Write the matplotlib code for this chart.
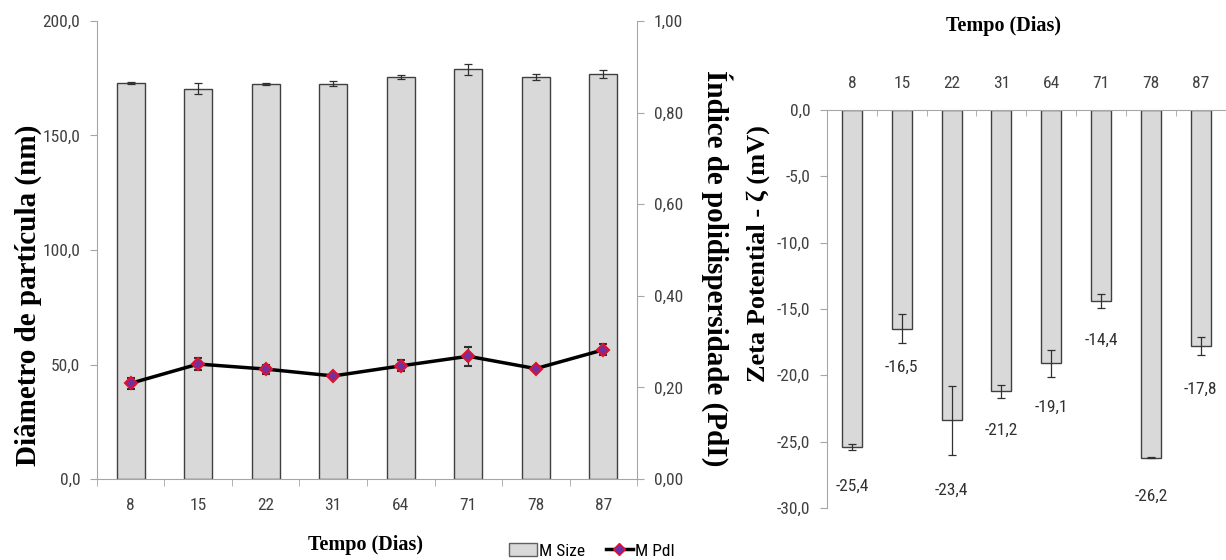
import numpy as np
import matplotlib
matplotlib.use("Agg")
import matplotlib.pyplot as plt
from matplotlib import font_manager
from matplotlib.lines import Line2D
from matplotlib.patches import Patch

days = ["8", "15", "22", "31", "64", "71", "78", "87"]

# particle size (nm) and its error
size_mean = [172.9, 170.5, 172.5, 172.6, 175.6, 179.0, 175.5, 176.9]
size_err = [0.6, 2.5, 0.3, 1.2, 1.0, 2.4, 1.4, 1.6]

# polydispersity index
pdi_mean = [0.209, 0.251, 0.240, 0.225, 0.247, 0.268, 0.241, 0.282]
pdi_err = [0.012, 0.013, 0.010, 0.005, 0.012, 0.021, 0.005, 0.012]

# zeta potential (mV)
zeta_mean = [-25.4, -16.5, -23.4, -21.2, -19.1, -14.4, -26.2, -17.8]
zeta_err = [0.2, 1.1, 2.6, 0.5, 1.0, 0.55, 0.05, 0.7]

# pick a narrow sans if one is there, the original uses Calibri
installed = {f.name for f in font_manager.fontManager.ttflist}
narrow = [n for n in ["Liberation Sans Narrow", "Roboto Condensed", "Open Sans Condensed",
                      "DejaVu Sans Condensed"] if n in installed]
tick_font = narrow[:1] + ["DejaVu Sans"]
tick_size = 12.5 if narrow else 10.5
label_font = ["Liberation Serif", "DejaVu Serif"]
grey = "#a6a6a6"
bar_face = "#d9d9d9"
bar_edge = "#404040"

W, H = 1226.0, 560.0
# how far (points) each zeta value label sits below its bar end
zeta_label_drop = [28, 28, 50, 28, 32, 28, 28, 31]


def comma(fmt):
    return lambda v, p: (fmt % v).replace(".", ",")


def style_ticks(labels):
    for t in labels:
        t.set_family(tick_font)
        t.set_fontsize(tick_size)
        t.set_color("#404040")
        if not narrow:
            t.set_fontstretch("condensed")


def label(px, py, s, size, rot=0):
    # axis titles placed in figure pixels (from top-left), like the original layout
    fig.text(px / W, 1 - py / H, s, family=label_font, fontweight="bold", fontsize=size,
             rotation=rot, ha="center", va="center", rotation_mode="anchor")


fig = plt.figure(figsize=(12.26, 5.6), dpi=100)
x = np.arange(len(days))

# ---- left panel: size bars + PdI line
ax = fig.add_axes([0.0791, 0.1446, 0.4405, 0.818])
ax.bar(x, size_mean, width=0.41, color=bar_face, edgecolor=bar_edge, linewidth=1.0, zorder=2)
ax.errorbar(x, size_mean, yerr=size_err, fmt="none", ecolor="#303030", elinewidth=0.9,
            capsize=3, capthick=0.9, zorder=3)
ax.set_xlim(-0.5, 7.5)
ax.set_ylim(0, 200)
ax.set_yticks([0, 50, 100, 150, 200])
ax.yaxis.set_major_formatter(plt.FuncFormatter(comma("%.1f")))
ax.set_xticks(x)
ax.set_xticklabels(days)
ax.set_xticks(np.arange(-0.5, 8.0, 1.0), minor=True)
ax.tick_params(axis="x", which="major", length=0, pad=14)
ax.tick_params(axis="x", which="minor", length=5, color=grey)
ax.tick_params(axis="y", length=5, color=grey, pad=7)
for s in ["top", "right"]:
    ax.spines[s].set_visible(False)
for s in ["left", "bottom"]:
    ax.spines[s].set_color(grey)
style_ticks(ax.get_xticklabels() + ax.get_yticklabels())

ax2 = ax.twinx()
ax2.errorbar(x, pdi_mean, yerr=pdi_err, color="black", linewidth=2.5, marker="D",
             markersize=6, markerfacecolor="#7030a0", markeredgecolor="#e0102f",
             markeredgewidth=1.5, ecolor="#303030", elinewidth=0.9, capsize=3,
             capthick=0.9, zorder=4)
ax2.set_ylim(0, 1.0)
ax2.set_yticks([0, 0.2, 0.4, 0.6, 0.8, 1.0])
ax2.yaxis.set_major_formatter(plt.FuncFormatter(comma("%.2f")))
ax2.tick_params(axis="y", length=5, color=grey, pad=7)
for s in ["top", "left", "bottom"]:
    ax2.spines[s].set_visible(False)
ax2.spines["right"].set_color(grey)
style_ticks(ax2.get_yticklabels())

label(28, 295, "Diâmetro de partícula (nm)", 21, 90)
label(717, 268, "Índice de polidispersidade (PdI)", 21, -90)
label(366, 545, "Tempo (Dias)", 14.5)

handles = [Patch(facecolor=bar_face, edgecolor="#606060", linewidth=1.0),
           Line2D([0], [0], color="black", linewidth=2.5, marker="D", markersize=6,
                  markerfacecolor="#7030a0", markeredgecolor="#e0102f")]
fig.legend(handles, ["M Size", "M PdI"], loc="center", bbox_to_anchor=(592 / W, 1 - 551 / H),
           ncol=2, frameon=False, handlelength=1.6, columnspacing=1.2,
           handletextpad=0.1, prop={"family": tick_font, "size": tick_size})

# ---- right panel: zeta potential
az = fig.add_axes([0.6746, 0.0929, 0.325, 0.7107])
az.bar(x, zeta_mean, width=0.4, color=bar_face, edgecolor=bar_edge, linewidth=1.0, zorder=2)
az.errorbar(x, zeta_mean, yerr=zeta_err, fmt="none", ecolor="#303030", elinewidth=0.9,
            capsize=3, capthick=0.9, zorder=3)
for xi, v, d in zip(x, zeta_mean, zeta_label_drop):
    t = az.annotate(("%.1f" % v).replace(".", ","), (xi, v), xytext=(0, -d),
                    textcoords="offset points", ha="center", va="center",
                    family=tick_font, fontsize=tick_size, color="#303030")
    if not narrow:
        t.set_fontstretch("condensed")
az.set_xlim(-0.5, 7.5)
az.set_ylim(-30, 0)
az.set_yticks([-30, -25, -20, -15, -10, -5, 0])
az.yaxis.set_major_formatter(plt.FuncFormatter(comma("%.1f")))
az.xaxis.tick_top()
az.set_xticks(x)
az.set_xticklabels(days)
az.set_xticks(np.arange(-0.5, 8.0, 1.0), minor=True)
az.tick_params(axis="x", which="major", length=0, pad=14)
az.tick_params(axis="x", which="minor", length=4, color=grey, direction="in", top=True)
az.tick_params(axis="y", length=5, color=grey, pad=7)
for s in ["bottom", "right"]:
    az.spines[s].set_visible(False)
for s in ["left", "top"]:
    az.spines[s].set_color(grey)
style_ticks(az.get_xticklabels() + az.get_yticklabels())

label(1003, 26, "Tempo (Dias)", 14.5)
label(758, 254, "Zeta Potential - ζ (mV)", 19, 90)

fig.savefig("out.png", dpi=100)
